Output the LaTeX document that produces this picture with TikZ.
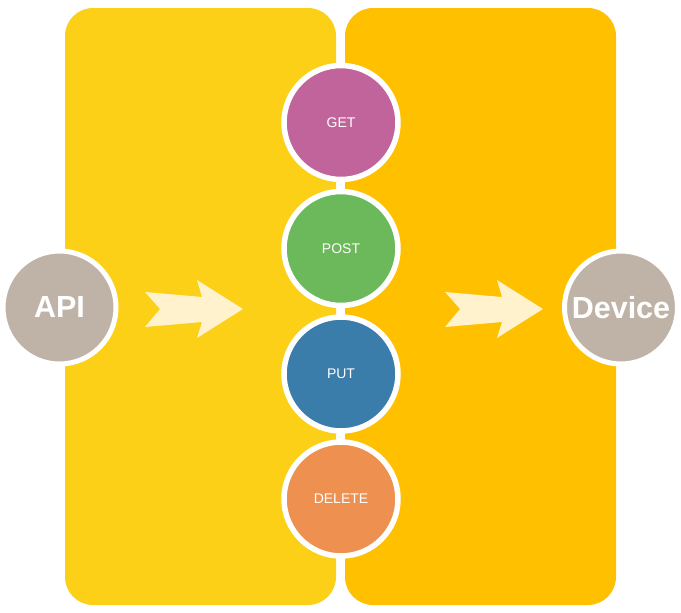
\documentclass[tikz,border=0pt]{standalone}
\usepackage{fontspec}
\setmainfont{Liberation Sans}
\definecolor{panelA}{RGB}{252,208,22}
\definecolor{panelB}{RGB}{255,192,0}
\definecolor{getc}{RGB}{192,100,155}
\definecolor{postc}{RGB}{107,185,90}
\definecolor{putc}{RGB}{58,125,170}
\definecolor{delc}{RGB}{238,145,80}
\definecolor{endc}{RGB}{191,179,168}
\definecolor{arrowc}{RGB}{255,242,204}
\tikzset{
  panel/.style={rounded corners=28pt},
  method/.style={circle,draw=white,line width=5.5pt,minimum size=114pt,inner sep=0pt,text=white,font=\fontsize{14}{16}\selectfont},
  endpoint/.style={circle,draw=white,line width=5pt,fill=endc,minimum size=113pt,inner sep=0pt,text=white,font=\bfseries\fontsize{30.5}{34}\selectfont},
  fatarrow/.style={fill=arrowc}
}
\begin{document}
\begin{tikzpicture}[x=1pt,y=-1pt]
\useasboundingbox (0,0) rectangle (681,613);
\fill[panel,panelA] (65,8) rectangle (336,605);
\fill[panel,panelB] (345,8) rectangle (616,605);
\node[endpoint] (api) at (59.5,307.5) {API};
\node[endpoint] (device) at (621,307.5) {Device};
\node[method,fill=getc] (get) at (341,122.5) {GET};
\node[method,fill=postc] (post) at (341,248.5) {POST};
\node[method,fill=putc] (put) at (341,374) {PUT};
\node[method,fill=delc] (delete) at (341,499) {DELETE};
\foreach \dx in {0,300}{
  \fill[fatarrow,shift={(\dx,0)}] (145,292) -- (202,297) -- (197,280) -- (243,309) -- (197,338) -- (202,322) -- (145,327) -- (160,309) -- cycle;
}
\end{tikzpicture}
\end{document}
